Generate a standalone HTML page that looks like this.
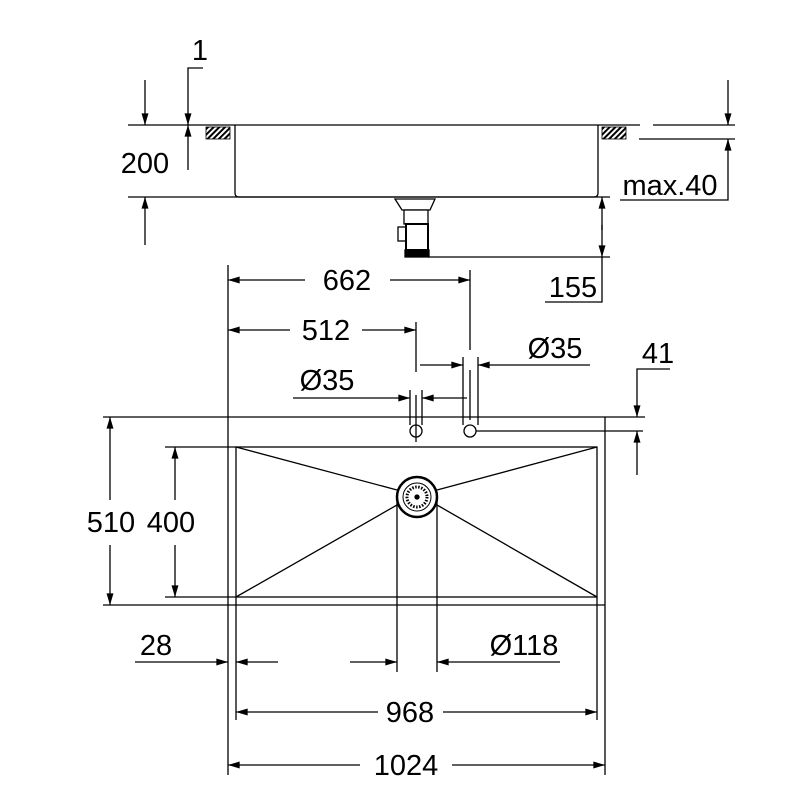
<!DOCTYPE html>
<html><head><style>body{margin:0;background:#fff}svg{display:block}</style></head><body>
<svg width="800" height="800" viewBox="0 0 800 800" xmlns="http://www.w3.org/2000/svg">
<defs>
<marker id="a" viewBox="0 0 10 6" refX="10" refY="3" markerWidth="20" markerHeight="7" markerUnits="userSpaceOnUse" orient="auto"><path d="M0,0 L10,3 L0,6z" fill="#000"/></marker>
<pattern id="h" width="4" height="4" patternUnits="userSpaceOnUse" patternTransform="rotate(45)"><rect width="2" height="4" fill="#000"/></pattern>
</defs>
<g stroke="#000" stroke-width="1.3" fill="none">
<line x1="128" y1="125" x2="640" y2="125"/><line x1="653" y1="125" x2="735" y2="125"/><line x1="639" y1="139" x2="735" y2="139"/>
<path d="M235,125 V193 Q235,197 239,197 H594 Q598,197 598,193 V125"/>
<line x1="128" y1="197" x2="610" y2="197"/>
<rect x="206" y="127" width="24" height="12" fill="url(#h)" stroke-width="0.8"/>
<rect x="602" y="127" width="24" height="12" fill="url(#h)" stroke-width="0.8"/>
<path d="M395,199 H435 L430,210 H402 Z" fill="#fff"/>
<rect x="404" y="210" width="24" height="14" fill="#fff"/>
<rect x="398" y="227" width="14" height="14" fill="#fff"/>
<rect x="406" y="224" width="22" height="26" fill="#fff" stroke-width="2"/>
<rect x="405" y="250" width="24" height="7" fill="#000"/>
<line x1="428" y1="257" x2="610" y2="257"/>
<line x1="145" y1="80" x2="145" y2="125" marker-end="url(#a)"/>
<line x1="145" y1="245" x2="145" y2="197" marker-end="url(#a)"/>
<path d="M203,68 H188 V125" marker-end="url(#a)"/>
<line x1="188" y1="170" x2="188" y2="125" marker-end="url(#a)"/>
<line x1="728" y1="80" x2="728" y2="125" marker-end="url(#a)"/>
<path d="M620,200 H728 V139" marker-end="url(#a)"/>
<line x1="602" y1="230" x2="602" y2="197" marker-end="url(#a)"/>
<line x1="602" y1="225" x2="602" y2="257" marker-end="url(#a)"/>
<path d="M602,257 V302 H545"/>
<line x1="103" y1="417" x2="645" y2="417"/>
<line x1="103" y1="605" x2="605" y2="605"/>
<line x1="605" y1="417" x2="605" y2="775"/>
<line x1="228" y1="265" x2="228" y2="775"/>
<rect x="236" y="447" width="361" height="150"/>
<line x1="165" y1="447" x2="236" y2="447"/><line x1="165" y1="597" x2="236" y2="597"/>
<line x1="236" y1="597" x2="236" y2="720"/><line x1="597" y1="597" x2="597" y2="720"/>
<path d="M236,447 L397,490 M597,447 L437,490 M236,597 L397,505 M597,597 L437,505"/>
<circle cx="417" cy="497" r="20" stroke-width="2.5" fill="#fff"/>
<circle cx="417" cy="497" r="14" stroke-width="1"/>
<circle cx="417" cy="497" r="10" stroke-width="3" stroke-dasharray="1.5 1.5"/>
<circle cx="417" cy="497" r="2" fill="#000"/>
<line x1="397" y1="497" x2="397" y2="672"/><line x1="437" y1="497" x2="437" y2="672"/>
<circle cx="416" cy="431" r="6"/><circle cx="470" cy="431" r="6"/>
<line x1="476" y1="431" x2="643" y2="431"/>
<line x1="110" y1="500" x2="110" y2="417" marker-end="url(#a)"/>
<line x1="110" y1="545" x2="110" y2="605" marker-end="url(#a)"/>
<line x1="175" y1="500" x2="175" y2="447" marker-end="url(#a)"/>
<line x1="175" y1="545" x2="175" y2="597" marker-end="url(#a)"/>
<line x1="135" y1="662" x2="228" y2="662" marker-end="url(#a)"/>
<line x1="278" y1="662" x2="236" y2="662" marker-end="url(#a)"/>
<line x1="350" y1="662" x2="397" y2="662" marker-end="url(#a)"/>
<line x1="560" y1="662" x2="437" y2="662" marker-end="url(#a)"/>
<line x1="378" y1="712" x2="236" y2="712" marker-end="url(#a)"/>
<line x1="443" y1="712" x2="597" y2="712" marker-end="url(#a)"/>
<line x1="360" y1="765" x2="228" y2="765" marker-end="url(#a)"/>
<line x1="452" y1="765" x2="605" y2="765" marker-end="url(#a)"/>
<line x1="305" y1="280" x2="228" y2="280" marker-end="url(#a)"/>
<line x1="390" y1="280" x2="470" y2="280" marker-end="url(#a)"/>
<line x1="470" y1="270" x2="470" y2="350"/>
<line x1="290" y1="330" x2="228" y2="330" marker-end="url(#a)"/>
<line x1="362" y1="330" x2="416" y2="330" marker-end="url(#a)"/>
<line x1="416" y1="322" x2="416" y2="372"/>
<line x1="410" y1="390" x2="410" y2="425"/><line x1="422" y1="390" x2="422" y2="425"/><line x1="416" y1="395" x2="416" y2="442"/>
<line x1="293" y1="398" x2="410" y2="398" marker-end="url(#a)"/>
<line x1="467" y1="398" x2="422" y2="398" marker-end="url(#a)"/>
<line x1="463" y1="357" x2="463" y2="425"/><line x1="478" y1="357" x2="478" y2="425"/><line x1="470" y1="370" x2="470" y2="420"/>
<line x1="420" y1="365" x2="463" y2="365" marker-end="url(#a)"/>
<line x1="590" y1="365" x2="478" y2="365" marker-end="url(#a)"/>
<path d="M670,369 H637 V417" marker-end="url(#a)"/>
<line x1="637" y1="475" x2="637" y2="431" marker-end="url(#a)"/>
</g>
<g font-family="Liberation Sans, sans-serif" font-size="29" fill="#000" text-anchor="middle">
<text x="145" y="173">200</text>
<text x="200" y="60">1</text>
<text x="670" y="195">max.40</text>
<text x="573" y="297">155</text>
<text x="347" y="290">662</text>
<text x="326" y="340">512</text>
<text x="555" y="358">Ø35</text>
<text x="327" y="390">Ø35</text>
<text x="658" y="363">41</text>
<text x="111" y="532">510</text>
<text x="171" y="532">400</text>
<text x="156" y="655">28</text>
<text x="524" y="655">Ø118</text>
<text x="410" y="722">968</text>
<text x="406" y="775">1024</text>
</g>
</svg>
</body></html>
